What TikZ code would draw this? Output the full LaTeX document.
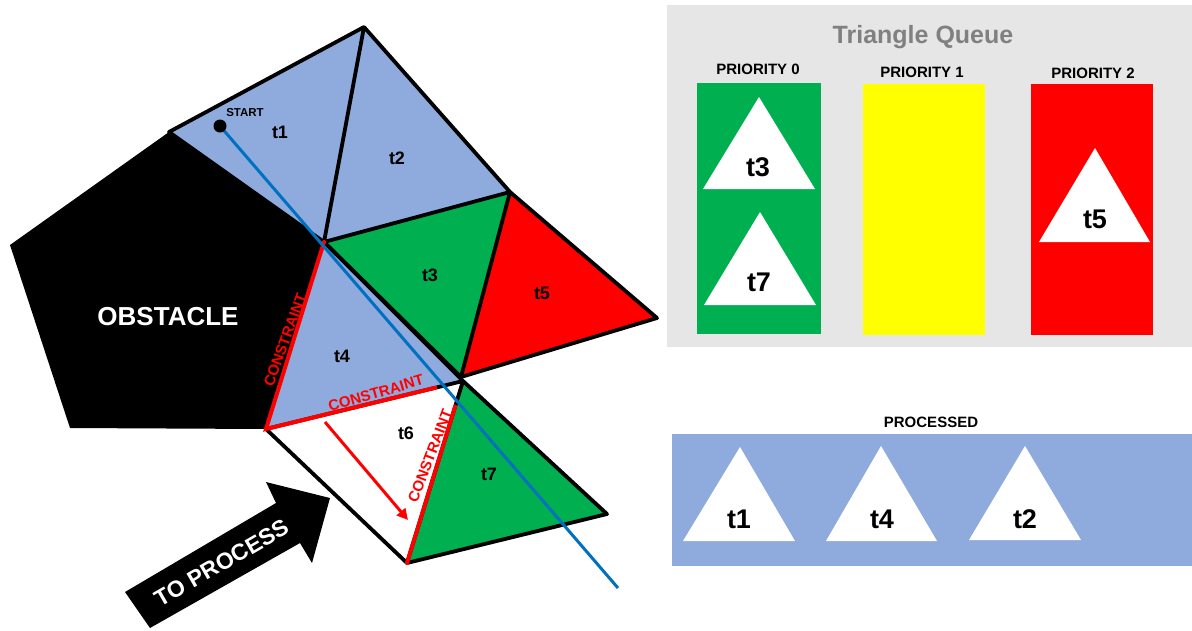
\documentclass[tikz,border=0pt]{standalone}
\usepackage{fontspec}
\setmainfont{Liberation Sans}
\usetikzlibrary{arrows.meta,calc}
\definecolor{tblue}{HTML}{8FAADC}
\definecolor{tgreen}{HTML}{00B050}
\definecolor{tred}{HTML}{FF0000}
\definecolor{tyellow}{HTML}{FFFF00}
\definecolor{panelgray}{HTML}{E6E6E6}
\definecolor{titlegray}{HTML}{808080}
\definecolor{pathblue}{HTML}{0070C0}
\tikzset{
  edge/.style={draw=black,line width=3.8pt,line join=round},
  cons/.style={draw=tred,line width=4pt,line cap=round},
  tlab/.style={font=\bfseries\fontsize{18}{20}\selectfont,text=black,inner sep=0pt},
  qlab/.style={font=\bfseries\fontsize{27}{30}\selectfont,text=black,inner sep=0pt},
  conslab/.style={font=\bfseries\fontsize{15}{17}\selectfont,text=tred,inner sep=0pt},
  prio/.style={font=\bfseries\fontsize{15}{17}\selectfont,text=black,inner sep=0pt},
}
\begin{document}
\begin{tikzpicture}[x=1pt,y=-1pt]
\useasboundingbox (0,0) rectangle (1192,630);
% vertices
\coordinate (A) at (364,27);
\coordinate (B) at (169,132);
\coordinate (C) at (324,242);
\coordinate (D) at (510,192);
\coordinate (E) at (657,318);
\coordinate (F) at (461,377);
\coordinate (G) at (266,429);
\coordinate (H) at (463,381);
\coordinate (I) at (407,563);
\coordinate (J) at (607,514);
\coordinate (OL) at (10,245);
\coordinate (OB) at (70,428);
% obstacle
\fill[black] (B) -- (OL) -- (OB) -- (G) -- (C) -- cycle;
\node[font=\bfseries\fontsize{26}{28}\selectfont,text=white,inner sep=0pt] (obst) at (168,317) {OBSTACLE};
% triangle fills
\fill[tblue] (B) -- (A) -- (C) -- cycle;
\fill[tblue] (A) -- (D) -- (C) -- cycle;
\fill[tgreen] (C) -- (D) -- (F) -- cycle;
\fill[tred] (D) -- (E) -- (F) -- cycle;
\fill[tblue] (C) -- (G) -- (H) -- cycle;
\fill[white] (G) -- (H) -- (I) -- cycle;
\fill[tgreen] (H) -- (J) -- (I) -- cycle;
% black edges
\draw[edge] (B) -- (A) -- (D) -- (E) -- (F) -- (C) -- cycle;
\draw[edge] (A) -- (C) -- (D) -- (F);
\draw[edge] (C) -- (H) -- (G) -- (I) -- (J) -- (H) -- (I);
% constraints
\draw[cons] (C) -- (G) -- ($(G)!0.86!(H)$);
\draw[cons] (I) -- ($(I)!0.86!(H)$);
% path
\coordinate (S) at (220,126);
\coordinate (P) at (618,588);
\draw[pathblue,line width=3pt] (S) -- (P);
\fill[black] (S) circle (6.5);
\node[font=\bfseries\fontsize{11.5}{13}\selectfont,inner sep=0pt] (start) at (245,113) {START};
% red arrow
\coordinate (r1) at (325,422);
\coordinate (r2) at (408,520);
\draw[tred,line width=3pt,-{Triangle[length=11pt,width=11pt]}] (r1) -- (r2);
% labels
\node[tlab] (l1) at (280,132) {t1};
\node[tlab] (l2) at (397,158) {t2};
\node[tlab] (l3) at (430,275) {t3};
\node[tlab] (l5) at (542,293) {t5};
\node[tlab] (l4) at (342,356) {t4};
\node[tlab] (l6) at (406,433) {t6};
\node[tlab] (l7) at (489,474) {t7};
\node[conslab,rotate=70] (c1) at (285,340) {CONSTRAINT};
\node[conslab,rotate=16] (c2) at (376,393) {CONSTRAINT};
\node[conslab,rotate=69] (c3) at (430,456) {CONSTRAINT};
% TO PROCESS arrow
\fill[black] (125,592) -- (276,503) -- (266,482) -- (330,498) -- (312,563) -- (300,543) -- (150,628) -- cycle;
\node[font=\bfseries\fontsize{23}{25}\selectfont,text=white,rotate=30,inner sep=0pt] (tp) at (222,563) {TO PROCESS};
% queue panel
\fill[panelgray] (667,5) rectangle (1192,347);
\node[font=\bfseries\fontsize{25}{28}\selectfont,text=titlegray,inner sep=0pt] (tq) at (923,37) {Triangle Queue};
\node[prio] (p0) at (758,69) {PRIORITY 0};
\node[prio] (p1) at (922,72) {PRIORITY 1};
\node[prio] (p2) at (1093,73) {PRIORITY 2};
\fill[tgreen] (697,83) rectangle (821,334);
\fill[tyellow] (863,84) rectangle (985,335);
\fill[tred] (1031,84) rectangle (1153,335);
\fill[white] (759,97) -- (815,189) -- (703,189) -- cycle;
\fill[white] (760,212) -- (816,305) -- (704,305) -- cycle;
\fill[white] (1095,148) -- (1150,242) -- (1039,242) -- cycle;
\node[qlab] (q3) at (758,167) {t3};
\node[qlab] (q7) at (759,282) {t7};
\node[qlab] (q5) at (1095,219) {t5};
% processed
\node[prio] (pr) at (931,422) {PROCESSED};
\fill[tblue] (672,434) rectangle (1192,566);
\fill[white] (740,447) -- (795,541) -- (683,541) -- cycle;
\fill[white] (881,446) -- (937,541) -- (826,541) -- cycle;
\fill[white] (1025,446) -- (1081,540) -- (969,540) -- cycle;
\node[qlab] (d1) at (739,519) {t1};
\node[qlab] (d4) at (882,519) {t4};
\node[qlab] (d2) at (1025,519) {t2};
\end{tikzpicture}
\end{document}
